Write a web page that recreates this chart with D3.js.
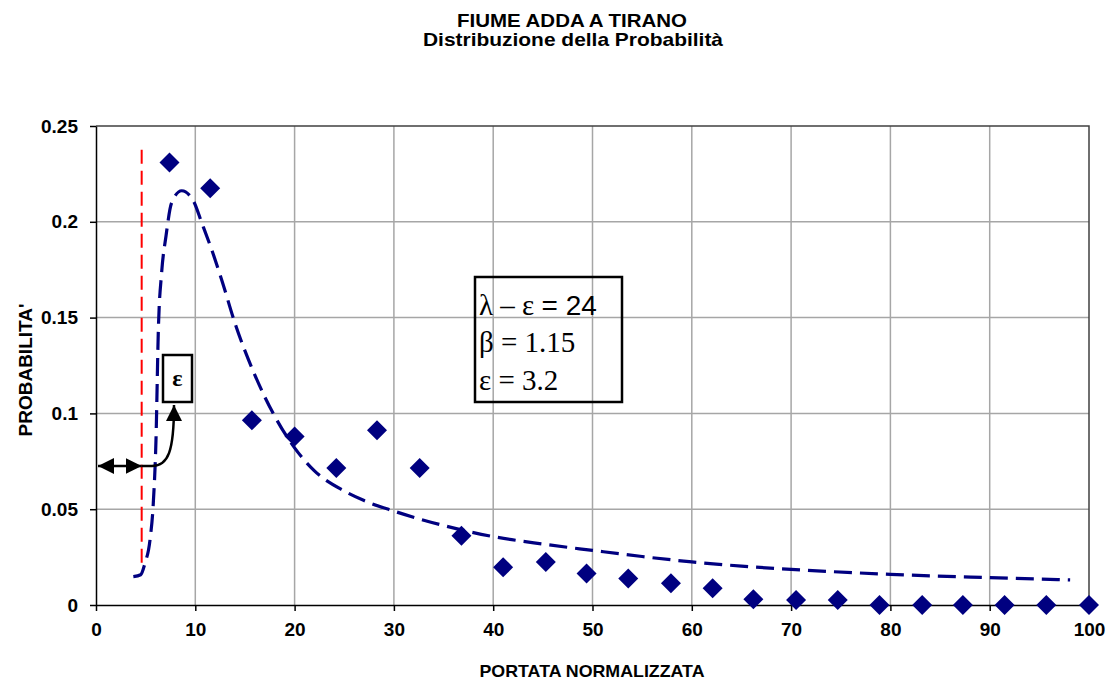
<!DOCTYPE html>
<html>
<head>
<meta charset="utf-8">
<script src="https://cdn.jsdelivr.net/npm/d3@7"></script>
<style>
  body { margin: 0; background: #fff; }
  svg text { font-family: "Liberation Sans", Arial, sans-serif; }
</style>
</head>
<body>
<svg id="chart" width="1113" height="683"></svg>
<script>
/* ── DATI ─────────────────────────────────────── */

// portata normalizzata / probabilità osservata (rombi)
const xPunti = [7.4, 11.5, 15.7, 20.0, 24.2, 28.3, 32.6, 36.8, 41.0, 45.3, 49.4, 53.6,
                57.9, 62.1, 66.2, 70.5, 74.7, 78.9, 83.2, 87.3, 91.5, 95.7, 100];
const pPunti = [0.231, 0.2175, 0.0964, 0.088, 0.0715, 0.0912, 0.0715, 0.0361, 0.0197, 0.0225,
                0.0164, 0.0138, 0.0113, 0.0087, 0.003, 0.0026, 0.0026, 0, 0, 0, 0, 0, 0];

// distribuzione teorica (linea tratteggiata)
const xCurva = [3.76, 4.5, 4.93, 5.44, 5.77, 6.04, 6.28, 6.61, 7.05, 7.62, 8.63, 9.8, 10.64,
                11.81, 12.7, 14, 16, 18, 20, 22, 25, 27, 30, 35, 40, 45, 50, 55, 60, 65,
                70, 80, 90, 98.1];
const pCurva = [0.0148, 0.0158, 0.0218, 0.034, 0.0532, 0.086, 0.1438, 0.1735, 0.1926, 0.210,
                0.2162, 0.211, 0.1996, 0.1831, 0.169, 0.147, 0.120, 0.0985, 0.082, 0.070,
                0.0595, 0.0545, 0.049, 0.0415, 0.0357, 0.0318, 0.0285, 0.0253, 0.0225,
                0.0203, 0.0186, 0.016, 0.0143, 0.0131];

const epsilon = 4.6;        // posizione della retta verticale rossa
const tickX = d3.range(0, 101, 10);
const tickY = [0, 0.05, 0.1, 0.15, 0.2, 0.25];

const titolo1 = "FIUME ADDA A TIRANO";
const titolo2 = "Distribuzione della Probabilità";
const labelX  = "PORTATA NORMALIZZATA";
const labelY  = "PROBABILITA'";

/* ── LAYOUT ───────────────────────────────────── */

const M = { left: 96, right: 1089, top: 126, bottom: 605 };
const svg = d3.select("#chart");
const NAVY = "#000080";

const x = d3.scaleLinear().domain([0, 100]).range([M.left, M.right]);
const y = d3.scaleLinear().domain([0, 0.25]).range([M.bottom, M.top]);

/* ── TITOLI ───────────────────────────────────── */

svg.append("text").attr("x", 572).attr("y", 27).attr("text-anchor", "middle")
  .style("font-size", "19px").style("font-weight", "bold")
  .attr("textLength", 230).attr("lengthAdjust", "spacingAndGlyphs").text(titolo1);
svg.append("text").attr("x", 573).attr("y", 46).attr("text-anchor", "middle")
  .style("font-size", "19px").style("font-weight", "bold")
  .attr("textLength", 300).attr("lengthAdjust", "spacingAndGlyphs").text(titolo2);

/* ── GRIGLIA ──────────────────────────────────── */

const grid = svg.append("g");
grid.selectAll(".gx").data(tickX.slice(1, -1)).join("line")
  .attr("x1", d => x(d)).attr("x2", d => x(d))
  .attr("y1", M.top).attr("y2", M.bottom)
  .attr("stroke", "#a6a6a6").attr("stroke-width", 1.5);
grid.selectAll(".gy").data(tickY.slice(1, -1)).join("line")
  .attr("x1", M.left).attr("x2", M.right)
  .attr("y1", d => y(d)).attr("y2", d => y(d))
  .attr("stroke", "#a6a6a6").attr("stroke-width", 1.5);

// bordo superiore e destro
svg.append("path")
  .attr("d", `M${M.left},${M.top}H${M.right}V${M.bottom}`)
  .attr("fill", "none").attr("stroke", "#404040").attr("stroke-width", 1.5);

/* ── ASSI ─────────────────────────────────────── */

const axX = svg.append("g").attr("transform", `translate(0,${M.bottom})`)
  .call(d3.axisBottom(x).tickValues(tickX).tickSize(6).tickPadding(12).tickSizeOuter(0));
const axY = svg.append("g").attr("transform", `translate(${M.left},0)`)
  .call(d3.axisLeft(y).tickValues(tickY).tickSize(6).tickPadding(12).tickSizeOuter(0)
        .tickFormat(d => d3.format("")(d)));

[axX, axY].forEach(a => {
  a.select(".domain").attr("stroke", "#000").attr("stroke-width", 1.5);
  a.selectAll(".tick line").attr("stroke", "#000").attr("stroke-width", 1.5);
  a.selectAll(".tick text")
    .style("font-family", "'Liberation Sans', Arial, sans-serif")
    .style("font-size", "19px").style("font-weight", "bold").attr("fill", "#000");
});
axX.selectAll(".tick text").attr("dy", "0.71em");

svg.append("text").attr("x", 592).attr("y", 677).attr("text-anchor", "middle")
  .style("font-size", "17px").style("font-weight", "bold")
  .attr("textLength", 225).attr("lengthAdjust", "spacingAndGlyphs").text(labelX);
svg.append("text").attr("transform", "translate(32,370) rotate(-90)")
  .attr("text-anchor", "middle")
  .style("font-size", "19px").style("font-weight", "bold").text(labelY);

/* ── RETTA EPSILON ────────────────────────────── */

svg.append("line")
  .attr("x1", x(epsilon)).attr("x2", x(epsilon))
  .attr("y1", y(0.2376)).attr("y2", y(0.02))
  .attr("stroke", "#ff0000").attr("stroke-width", 2)
  .attr("stroke-dasharray", "14,7");

/* ── CURVA TEORICA ────────────────────────────── */

const linea = d3.line()
  .x((d, i) => x(xCurva[i]))
  .y((d, i) => y(pCurva[i]))
  .curve(d3.curveMonotoneX);

svg.append("path").datum(pCurva)
  .attr("d", linea)
  .attr("fill", "none").attr("stroke", NAVY).attr("stroke-width", 3.2)
  .attr("stroke-dasharray", "18,8");

/* ── PUNTI OSSERVATI ──────────────────────────── */

const rombo = d3.symbol().type(d3.symbolSquare).size(200);
svg.append("g").selectAll("path").data(xPunti).join("path")
  .attr("d", rombo)
  .attr("transform", (d, i) => `translate(${x(d)},${y(pPunti[i])}) rotate(45)`)
  .attr("fill", NAVY);

/* ── ANNOTAZIONE EPSILON ──────────────────────── */

const defs = svg.append("defs");
defs.append("marker").attr("id", "freccia")
  .attr("viewBox", "0 0 10 10").attr("refX", 10).attr("refY", 5)
  .attr("markerWidth", 16).attr("markerHeight", 16)
  .attr("markerUnits", "userSpaceOnUse").attr("orient", "auto-start-reverse")
  .append("path").attr("d", "M0,0L10,5L0,10Z").attr("fill", "#000");

const yA = 466;
const xE = x(epsilon);
// doppia freccia orizzontale
svg.append("line")
  .attr("x1", 98).attr("x2", xE).attr("y1", yA).attr("y2", yA)
  .attr("stroke", "#000").attr("stroke-width", 2.5)
  .attr("marker-start", "url(#freccia)").attr("marker-end", "url(#freccia)");
// freccia curva verso il riquadro
svg.append("path")
  .attr("d", `M${xE},${yA}H152C168,${yA} 174,452 174,405`)
  .attr("fill", "none").attr("stroke", "#000").attr("stroke-width", 2.5)
  .attr("marker-end", "url(#freccia)");

svg.append("rect").attr("x", 163).attr("y", 355).attr("width", 29).attr("height", 47)
  .attr("fill", "#fff").attr("stroke", "#000").attr("stroke-width", 2.5);
svg.append("text").attr("x", 177.5).attr("y", 386).attr("text-anchor", "middle")
  .style("font-family", "'Liberation Serif', 'Times New Roman', serif")
  .style("font-size", "24px").style("font-weight", "bold").text("ε");

/* ── RIQUADRO PARAMETRI ───────────────────────── */

svg.append("rect").attr("x", 475).attr("y", 277).attr("width", 147).attr("height", 125)
  .attr("fill", "none").attr("stroke", "#000").attr("stroke-width", 2.5);

const serif = "'Liberation Serif', 'Times New Roman', serif";
const t1 = svg.append("text").attr("x", 479).attr("y", 315).style("font-size", "29px");
t1.append("tspan").style("font-family", serif).text("λ – ε ");
t1.append("tspan").style("font-size", "28px").text("= 24");
svg.append("text").attr("x", 479).attr("y", 352)
  .style("font-family", serif).style("font-size", "29px").text("β = 1.15");
svg.append("text").attr("x", 479).attr("y", 390)
  .style("font-family", serif).style("font-size", "29px").text("ε = 3.2");
</script>
</body>
</html>
